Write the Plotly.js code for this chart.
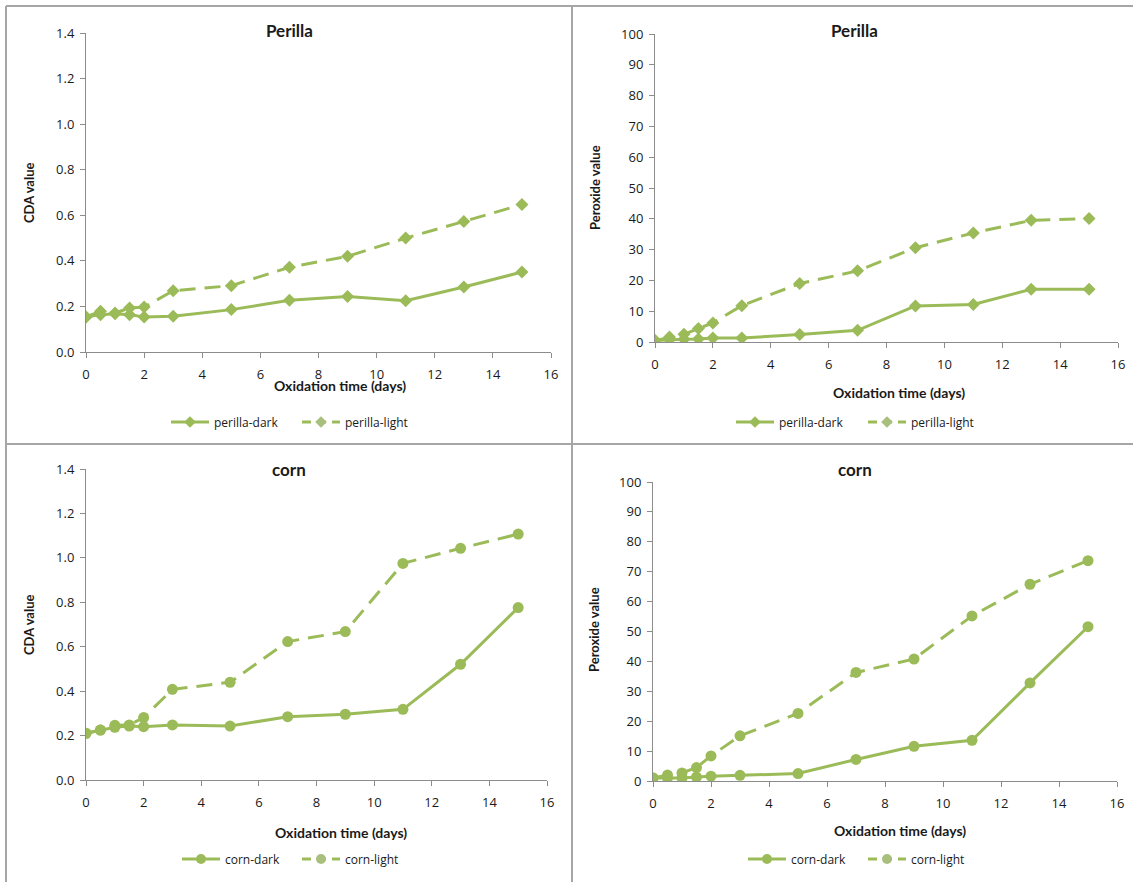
<!DOCTYPE html>
<html>
<head>
<meta charset="utf-8">
<script src="https://cdn.plot.ly/plotly-3.0.1.min.js"></script>
<style>
  html, body { margin: 0; padding: 0; background: #ffffff; }
  #chart { width: 1133px; height: 882px; }
</style>
</head>
<body>
<div id="chart"></div>
<script>
// Oxidation sampling days (shared by every series)
const days = [0, 0.5, 1, 1.5, 2, 3, 5, 7, 9, 11, 13, 15];

// Perilla oil
const perillaDarkCDA  = [0.154, 0.164, 0.168, 0.164, 0.154, 0.157, 0.186, 0.227, 0.244, 0.225, 0.285, 0.351];
const perillaLightCDA = [0.154, 0.179, 0.171, 0.193, 0.197, 0.269, 0.291, 0.372, 0.420, 0.500, 0.573, 0.647];
const perillaDarkPV   = [0.5, 0.8, 0.9, 1.0, 1.3, 1.3, 2.4, 3.8, 11.7, 12.2, 17.1, 17.1];
const perillaLightPV  = [0.5, 1.6, 2.5, 4.4, 6.2, 11.8, 19.0, 23.1, 30.6, 35.4, 39.5, 40.1];

// Corn oil
const cornDarkCDA  = [0.210, 0.225, 0.237, 0.243, 0.240, 0.248, 0.243, 0.285, 0.296, 0.318, 0.521, 0.776];
const cornLightCDA = [0.210, 0.225, 0.246, 0.248, 0.281, 0.408, 0.440, 0.623, 0.668, 0.975, 1.043, 1.107];
const cornDarkPV   = [1.0, 1.0, 1.0, 1.3, 1.6, 1.9, 2.5, 7.2, 11.6, 13.6, 32.8, 51.6];
const cornLightPV  = [1.0, 2.0, 2.7, 4.5, 8.4, 15.1, 22.6, 36.3, 40.8, 55.2, 65.8, 73.7];

// Labels
const panelTitles = ["Perilla", "Perilla", "corn", "corn"];
const xTitle = "Oxidation time (days)";
const cdaTitle = "CDA value";
const pvTitle = "Peroxide value";
const seriesNames = [
  ["perilla-dark", "perilla-light"],
  ["perilla-dark", "perilla-light"],
  ["corn-dark", "corn-light"],
  ["corn-dark", "corn-light"]
];

const W = 1133, H = 882;
const px = v => v / W;
const py = v => 1 - v / H;

const GREEN = "#9BBB59";
const TXT = "#1a1a1a";
const AX = "#8c8c8c";
const FONT = "Lato, 'Open Sans', sans-serif";
const TICKFONT = "'Open Sans', Lato, sans-serif";

// Plot boxes in page pixels: [left, right, top, bottom]
const boxes = [
  [86, 551, 33, 352],
  [655, 1118, 34, 342],
  [86, 547, 469, 780],
  [653, 1117, 482, 781]
];

const panelData = [
  [perillaDarkCDA, perillaLightCDA],
  [perillaDarkPV, perillaLightPV],
  [cornDarkCDA, cornLightCDA],
  [cornDarkPV, cornLightPV]
];
const symbols = ["diamond", "diamond", "circle", "circle"];

const traces = [];
panelData.forEach((pair, i) => {
  const ax = i === 0 ? "" : String(i + 1);
  const legendId = i === 0 ? "legend" : "legend" + (i + 1);
  const msize = symbols[i] === "diamond" ? 10 : 11;
  pair.forEach((vals, j) => {
    // plotted series
    traces.push({
      type: "scatter",
      mode: "lines+markers",
      x: days,
      y: vals,
      name: seriesNames[i][j],
      xaxis: "x" + ax,
      yaxis: "y" + ax,
      showlegend: false,
      line: { color: GREEN, width: 3, dash: j === 0 ? "solid" : "16px,9px" },
      marker: { color: GREEN, symbol: symbols[i], size: msize },
      hoverinfo: "x+y+name"
    });
    // legend key with a shorter dash so the gaps show in the short key line
    traces.push({
      type: "scatter",
      mode: "lines+markers",
      x: [null],
      y: [null],
      name: seriesNames[i][j],
      xaxis: "x" + ax,
      yaxis: "y" + ax,
      legend: legendId,
      line: { color: GREEN, width: 3, dash: j === 0 ? "solid" : "9px,6px" },
      marker: { color: j === 0 ? GREEN : "#a9bf7e", symbol: symbols[i], size: msize - 1 },
      hoverinfo: "skip"
    });
  });
});

const layout = {
  width: W,
  height: H,
  margin: { l: 0, r: 0, t: 0, b: 0 },
  paper_bgcolor: "#ffffff",
  plot_bgcolor: "rgba(0,0,0,0)",
  font: { family: FONT, size: 12, color: TXT },
  showlegend: true,
  annotations: [],
  shapes: []
};

const yRanges = [[0, 1.4], [0, 100], [0, 1.4], [0, 100]];
const yDtick = [0.2, 10, 0.2, 10];
const yFormat = [".1f", "d", ".1f", "d"];
const yTitles = [cdaTitle, pvTitle, cdaTitle, pvTitle];

// Axis title / panel title positions in page pixels
const titlePos = [[289, 30], [854, 30], [289, 469], [855, 469]];
const xTitlePos = [[340, 385], [899, 392], [341, 832], [900, 830]];
const yTitlePos = [[29, 193], [595, 188], [29, 625], [594, 630]];
// Legend: start of the first key line, centre line of the row, spacing between entries
const legendPos = [[171, 422, 131], [736, 422, 132], [182, 859, 120], [748, 859, 120]];

boxes.forEach((b, i) => {
  const s = i === 0 ? "" : String(i + 1);
  const xa = "xaxis" + s, ya = "yaxis" + s;
  layout[xa] = {
    domain: [px(b[0]), px(b[1])],
    anchor: "y" + s,
    range: [0, 16],
    dtick: 2,
    tick0: 0,
    showgrid: false,
    zeroline: false,
    showline: true,
    linecolor: AX,
    linewidth: 1,
    ticks: "outside",
    ticklen: 5,
    tickcolor: AX,
    ticklabelstandoff: 5,
    tickfont: { family: TICKFONT, size: 13, color: TXT },
    fixedrange: true
  };
  layout[ya] = {
    domain: [py(b[3]), py(b[2])],
    anchor: "x" + s,
    range: yRanges[i],
    dtick: yDtick[i],
    tick0: 0,
    tickformat: yFormat[i],
    showgrid: false,
    zeroline: false,
    showline: true,
    linecolor: AX,
    linewidth: 1,
    ticks: "outside",
    ticklen: 5,
    tickcolor: AX,
    ticklabelstandoff: 3,
    tickfont: { family: TICKFONT, size: 13, color: TXT },
    fixedrange: true
  };

  layout.annotations.push({
    text: "<b>" + panelTitles[i] + "</b>",
    xref: "paper", yref: "paper",
    x: px(titlePos[i][0]), y: py(titlePos[i][1]),
    xanchor: "center", yanchor: "middle",
    showarrow: false,
    font: { family: FONT, size: 17, color: TXT }
  });
  layout.annotations.push({
    text: "<b>" + xTitle + "</b>",
    xref: "paper", yref: "paper",
    x: px(xTitlePos[i][0]), y: py(xTitlePos[i][1]),
    xanchor: "center", yanchor: "middle",
    showarrow: false,
    font: { family: FONT, size: 14, color: TXT }
  });
  layout.annotations.push({
    text: "<b>" + yTitles[i] + "</b>",
    xref: "paper", yref: "paper",
    x: px(yTitlePos[i][0]), y: py(yTitlePos[i][1]),
    xanchor: "center", yanchor: "middle",
    textangle: -90,
    showarrow: false,
    font: { family: FONT, size: 13, color: TXT }
  });

  const lg = legendPos[i];
  layout[i === 0 ? "legend" : "legend" + (i + 1)] = {
    orientation: "h",
    x: px(lg[0] - 5),
    y: py(lg[1]),
    xanchor: "left",
    yanchor: "middle",
    bgcolor: "rgba(0,0,0,0)",
    borderwidth: 0,
    itemwidth: 38,
    entrywidthmode: "pixels",
    entrywidth: lg[2] - 53,
    itemclick: false,
    itemdoubleclick: false,
    font: { family: TICKFONT, size: 12, color: TXT }
  };
});

// Panel frame lines
const frame = { type: "line", xref: "paper", yref: "paper", line: { color: "#a6a6a6", width: 2 } };
layout.shapes.push(Object.assign({}, frame, { x0: px(6), x1: px(6), y0: 0, y1: py(6) }));
layout.shapes.push(Object.assign({}, frame, { x0: px(6), x1: 1, y0: py(6), y1: py(6) }));
layout.shapes.push(Object.assign({}, frame, { x0: px(572), x1: px(572), y0: 0, y1: py(6) }));
layout.shapes.push(Object.assign({}, frame, { x0: px(6), x1: 1, y0: py(444), y1: py(444) }));

Plotly.newPlot("chart", traces, layout, { displayModeBar: false });
</script>
</body>
</html>
